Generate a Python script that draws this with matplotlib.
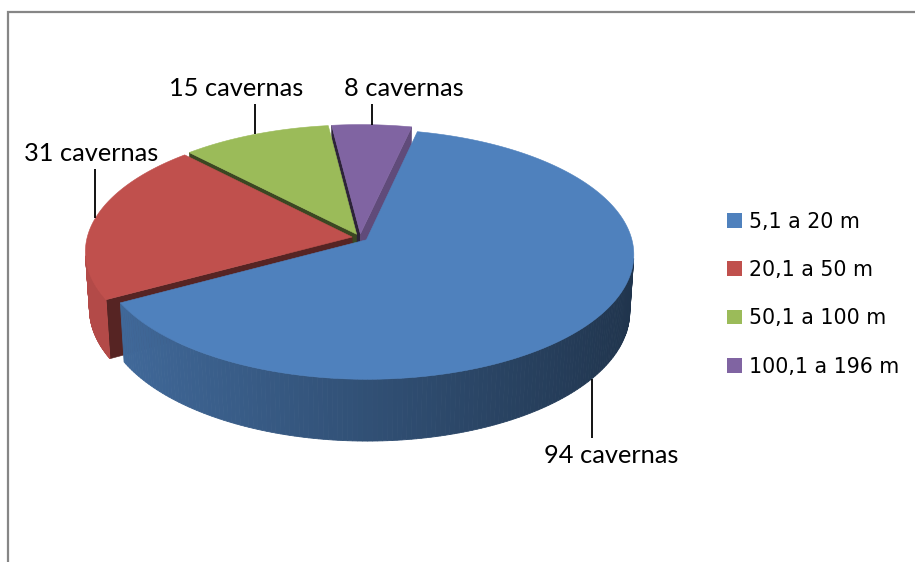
import numpy as np
import matplotlib
matplotlib.use("Agg")
import matplotlib.pyplot as plt
from matplotlib.patches import Polygon, Patch
from matplotlib.colors import to_rgb

# ---- data -------------------------------------------------------------
categories = ["5,1 a 20 m", "20,1 a 50 m", "50,1 a 100 m", "100,1 a 196 m"]
counts = [94, 31, 15, 8]
point_labels = [f"{n} cavernas" for n in counts]
colors = ["#4f81bd", "#c0504d", "#9bbb59", "#8064a2"]

# ---- 3-D pie geometry (pixel canvas) ----------------------------------
W, H = 915, 562
CX, CY = 360.0, 237.6        # projected pie centre
S = 265.0                    # radius in pixels
TILT = np.radians(27.6)      # view elevation
DIST = 7.66                  # perspective distance (radius units)
DEPTH = 0.245                # thickness (radius units)
EXPLODE = 0.03
START = 12.5                 # first slice starts here, clockwise from 12 o'clock

cT, sT = np.cos(TILT), np.sin(TILT)
CAM = np.array([0.0, DIST * sT, -DIST * cT])


def proj(X, Y, Z):
    X, Y, Z = np.asarray(X, float), np.asarray(Y, float), np.asarray(Z, float)
    v = Y * cT + Z * sT
    w = Z * cT - Y * sT
    k = DIST / (DIST + w)
    return CX + S * X * k, CY - S * v * k


def facing(normal, point):
    return np.dot(normal, CAM - np.asarray(point)) > 0


def shade(color, f):
    r, g, b = to_rgb(color)
    return (r * f, g * f, b * f)


fig = plt.figure(figsize=(W / 100, H / 100), dpi=100)
ax = fig.add_axes([0, 0, 1, 1])
ax.set_xlim(0, W)
ax.set_ylim(H, 0)
ax.axis("off")

total = float(sum(counts))
edges = START + 360.0 * np.concatenate([[0], np.cumsum(counts)]) / total
slices = []
for i in range(len(counts)):
    t0, t1 = np.radians(edges[i]), np.radians(edges[i + 1])
    mid = 0.5 * (t0 + t1)
    slices.append((i, t0, t1, mid))

# side brightness per slice (light coming from the left)
side_factor = {1: 0.93, 2: 0.85, 3: 0.85}
cut_factor = {0: (0.45, 0.45), 1: (0.45, 0.45), 2: (0.38, 0.45), 3: (0.35, 0.75)}

# back slices first
order = sorted(slices, key=lambda s: -np.cos(s[3]))
anchors = {}
for i, t0, t1, mid in order:
    ox, oz = EXPLODE * np.sin(mid), EXPLODE * np.cos(mid)
    col = colors[i]
    # radial cut faces
    for t, sign, fac in ((t0, -1, cut_factor[i][0]), (t1, 1, cut_factor[i][1])):
        n = sign * np.array([np.cos(t), 0.0, -np.sin(t)])
        if facing(n, (ox, 0, oz)):
            X = [ox, ox + np.sin(t), ox + np.sin(t), ox]
            Z = [oz, oz + np.cos(t), oz + np.cos(t), oz]
            Y = [0, 0, -DEPTH, -DEPTH]
            px, py = proj(X, Y, Z)
            c = shade(col, fac)
            ax.add_patch(Polygon(np.c_[px, py], closed=True, fc=c, ec=c, lw=0.4))
    # curved outer wall, shaded strip by strip
    arc = np.linspace(t0, t1, 240)
    for a0, a1 in zip(arc[:-1], arc[1:]):
        am = 0.5 * (a0 + a1)
        n = np.array([np.sin(am), 0.0, np.cos(am)])
        if not facing(n, (ox + np.sin(am), -DEPTH / 2, oz + np.cos(am))):
            continue
        X = [ox + np.sin(a0), ox + np.sin(a1), ox + np.sin(a1), ox + np.sin(a0)]
        Z = [oz + np.cos(a0), oz + np.cos(a1), oz + np.cos(a1), oz + np.cos(a0)]
        Y = [0, 0, -DEPTH, -DEPTH]
        px, py = proj(X, Y, Z)
        f = 0.62 - 0.22 * np.sin(am) if i == 0 else side_factor[i]
        c = shade(col, f)
        ax.add_patch(Polygon(np.c_[px, py], closed=True, fc=c, ec=c, lw=0.6))
    # top face
    X = np.r_[ox, ox + np.sin(arc)]
    Z = np.r_[oz, oz + np.cos(arc)]
    px, py = proj(X, np.zeros_like(X), Z)
    ax.add_patch(Polygon(np.c_[px, py], closed=True, fc=col, ec=col, lw=0.4))
    # leader anchor on the rim at mid-angle
    yy = -DEPTH if np.cos(mid) < 0 else 0.0
    anchors[i] = proj(ox + np.sin(mid), yy, oz + np.cos(mid))

# ---- data labels with leader lines ----------------------------------
label_pos = {0: (611, 463), 1: (91, 161), 2: (236, 96), 3: (404, 96)}
label_font = ["Lato", "DejaVu Sans"]
for i, (tx, ty) in label_pos.items():
    axx, ayy = anchors[i]
    if ayy > ty:          # label above the pie
        y_end = ty + 8
    else:                 # label below the pie
        y_end = ty - 25
    ax.plot([axx, axx], [ayy, y_end], color="black", lw=1.3, solid_capstyle="butt")
    ax.text(tx, ty, point_labels[i], ha="center", va="baseline",
            fontsize=18.3, family=label_font, color="black")

# ---- legend -----------------------------------------------------------
handles = [Patch(facecolor=c, edgecolor="none") for c in colors]
ax.legend(handles, categories, loc="upper left",
          bbox_to_anchor=(727, 211.5), bbox_transform=ax.transData,
          frameon=False, borderpad=0, borderaxespad=0,
          handlelength=0.73, handleheight=0.73, handletextpad=0.34,
          labelspacing=1.38, prop={"family": "DejaVu Sans", "size": 14.8})

# ---- outer chart border (clipped by the canvas) ------------------------
ax.plot([8, 8, W + 5], [H + 5, 12, 12], color="#868686", lw=1.6,
        solid_joinstyle="miter", clip_on=False)

fig.savefig("out.png", dpi=100)
